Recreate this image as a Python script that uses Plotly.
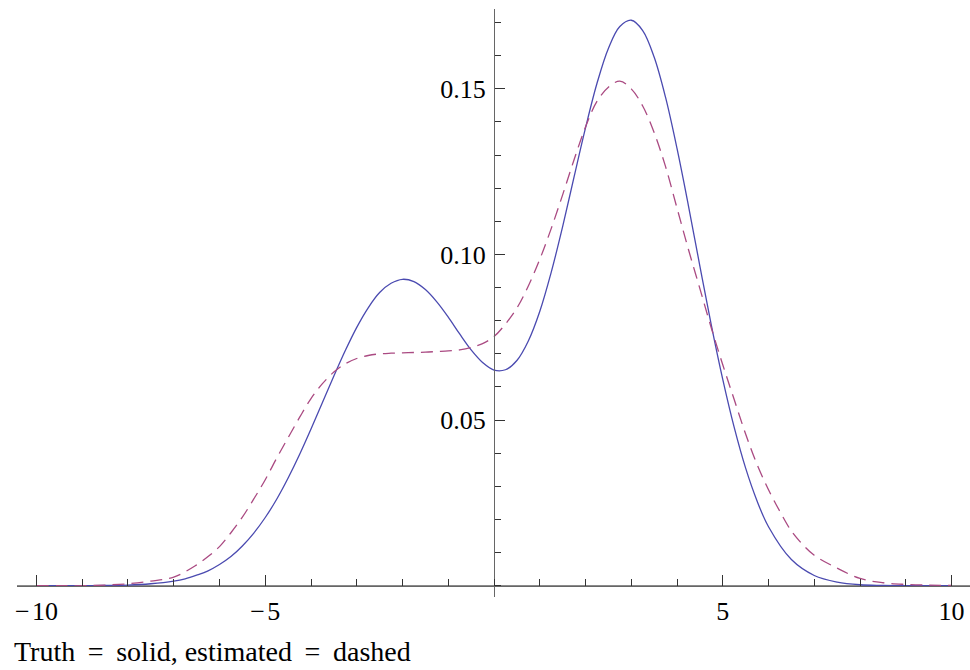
import plotly.graph_objects as go

# ---- data ----
x_truth = [-10, -9.5, -9, -8.5, -8, -7.5, -7, -6.75, -6.5, -6.25, -6, -5.75, -5.5, -5.25, -5,
           -4.75, -4.5, -4.25, -4, -3.75, -3.5, -3.25, -3, -2.75, -2.5, -2.25, -2, -1.75,
           -1.5, -1.25, -1, -0.75, -0.5, -0.25, 0, 0.25, 0.5, 0.75, 1, 1.25, 1.5, 1.75, 2,
           2.25, 2.5, 2.75, 3, 3.25, 3.5, 3.75, 4, 4.25, 4.5, 4.75, 5, 5.25, 5.5, 5.75, 6,
           6.5, 7, 7.5, 8, 8.5, 9, 9.5, 10]
y_truth = [0.0000, 0.0000, 0.0000, 0.0001, 0.0002, 0.0006, 0.0014, 0.0021, 0.0032, 0.0045,
           0.0064, 0.0088, 0.0120, 0.0159, 0.0206, 0.0261, 0.0325, 0.0396, 0.0473, 0.0553,
           0.0633, 0.0710, 0.0780, 0.0839, 0.0885, 0.0913, 0.0925, 0.0918, 0.0894, 0.0857,
           0.0811, 0.0760, 0.0712, 0.0674, 0.0651, 0.0652, 0.0680, 0.0739, 0.0828, 0.0946,
           0.1084, 0.1234, 0.1382, 0.1516, 0.1622, 0.1688, 0.1707, 0.1676, 0.1596, 0.1474,
           0.1320, 0.1147, 0.0965, 0.0787, 0.0623, 0.0478, 0.0355, 0.0256, 0.0178, 0.0079,
           0.0031, 0.0011, 0.0003, 0.0001, 0.0000, 0.0000, 0.0000]

x_est = [-10, -9.5, -9, -8.5, -8, -7.5, -7, -6.5, -6.25, -6, -5.75, -5.5, -5.25, -5, -4.75,
         -4.5, -4.25, -4, -3.75, -3.5, -3.25, -3, -2.75, -2.5, -2.25, -2, -1.75, -1.5,
         -1.25, -1, -0.75, -0.5, -0.25, 0, 0.25, 0.5, 0.75, 1, 1.25, 1.5, 1.75, 2, 2.25,
         2.5, 2.75, 3, 3.25, 3.5, 3.75, 4, 4.25, 4.5, 4.75, 5, 5.25, 5.5, 5.75, 6, 6.25,
         6.5, 6.75, 7, 7.5, 8, 8.5, 9, 9.5, 10]
y_est = [0.0000, 0.0000, 0.0000, 0.0002, 0.0006, 0.0014, 0.0026, 0.0063, 0.0088, 0.0118,
         0.0160, 0.0207, 0.0262, 0.0320, 0.0385, 0.0447, 0.0508, 0.0565, 0.0610, 0.0645,
         0.0670, 0.0686, 0.0695, 0.0700, 0.0702, 0.0703, 0.0704, 0.0705, 0.0707, 0.0709,
         0.0712, 0.0719, 0.0731, 0.0752, 0.0790, 0.0838, 0.0905, 0.0985, 0.1078, 0.1180,
         0.1286, 0.1385, 0.1462, 0.1505, 0.1523, 0.1500, 0.1448, 0.1368, 0.1265, 0.1140,
         0.1015, 0.0897, 0.0778, 0.0667, 0.0562, 0.0458, 0.0366, 0.0290, 0.0224, 0.0165,
         0.0124, 0.0092, 0.0053, 0.0022, 0.0009, 0.0004, 0.0002, 0.0001]

x_tick_vals = [-10, -5, 5, 10]
x_tick_text = ["\u2212\u200a10", "\u2212\u200a5", "5", "10"]
y_tick_vals = [0.05, 0.10, 0.15]
y_tick_text = ["0.05", "0.10", "0.15"]
caption = ("Truth\u00a0\u2009=\u2009\u00a0solid, "
           "estimated\u00a0\u2009=\u2009\u00a0dashed")

# ---- figure ----
W, H = 970, 670
ml, mr, mt, mb = 17, 0, 9, 73
x_range = [-10.426, 10.404]
y_range = [-0.0034, 0.1741]

x_zero_frac = (0 - x_range[0]) / (x_range[1] - x_range[0])
y_zero_frac = (0 - y_range[0]) / (y_range[1] - y_range[0])

font_family = "Liberation Serif, Times New Roman, serif"
axis_col = "#666666"
tick_col = "#333333"

fig = go.Figure()
fig.add_trace(go.Scatter(x=x_truth, y=y_truth, mode="lines",
                         line=dict(color="#4a4ab0", width=1.3, shape="spline", smoothing=1.0),
                         showlegend=False, hoverinfo="skip"))
fig.add_trace(go.Scatter(x=x_est, y=y_est, mode="lines",
                         line=dict(color="#aa4a82", width=1.3, dash="12px,7px",
                                   shape="spline", smoothing=1.0),
                         showlegend=False, hoverinfo="skip"))

fig.update_layout(
    width=W, height=H,
    margin=dict(l=ml, r=mr, t=mt, b=mb, pad=0, autoexpand=False),
    paper_bgcolor="white", plot_bgcolor="white",
    font=dict(family=font_family, size=26, color="black"),
    xaxis=dict(range=x_range, showgrid=False, zeroline=False, automargin=False,
               anchor="free", position=y_zero_frac,
               showline=True, linecolor=axis_col, linewidth=1,
               tickmode="array", tickvals=x_tick_vals, ticktext=x_tick_text,
               ticks="inside", ticklen=11, tickwidth=1, tickcolor=tick_col,
               minor=dict(tickmode="linear", tick0=0, dtick=1, ticks="inside",
                          ticklen=7, tickwidth=1, tickcolor=tick_col),
               tickfont=dict(family=font_family, size=26, color="black"),
               ticklabelstandoff=2),
    yaxis=dict(range=y_range, showgrid=False, zeroline=False, automargin=False,
               anchor="free", position=x_zero_frac,
               showline=True, linecolor=axis_col, linewidth=1,
               tickmode="array", tickvals=y_tick_vals, ticktext=y_tick_text,
               ticks="inside", ticklen=10, tickwidth=1, tickcolor=tick_col,
               minor=dict(tickmode="linear", tick0=0, dtick=0.01, ticks="inside",
                          ticklen=6, tickwidth=1, tickcolor=tick_col),
               tickfont=dict(family=font_family, size=26, color="black"),
               ticklabelstandoff=3),
)

# x-axis line across the full width (at y = 0)
fig.add_shape(type="line", xref="paper", yref="y", x0=0, x1=1, y0=0, y1=0,
              line=dict(color=axis_col, width=1), layer="below")

fig.add_annotation(text=caption, xref="paper", yref="paper",
                   x=(12 - ml) / (W - ml - mr), y=-(651 - (H - mb)) / (H - mt - mb),
                   xanchor="left", yanchor="middle", showarrow=False,
                   font=dict(family=font_family, size=28, color="black"))

fig.write_html("out.html",
               config={"displayModeBar": False},
               post_script="document.body.style.margin='0';"
                           "document.body.style.padding='0';"
                           "document.documentElement.style.overflow='hidden';")
